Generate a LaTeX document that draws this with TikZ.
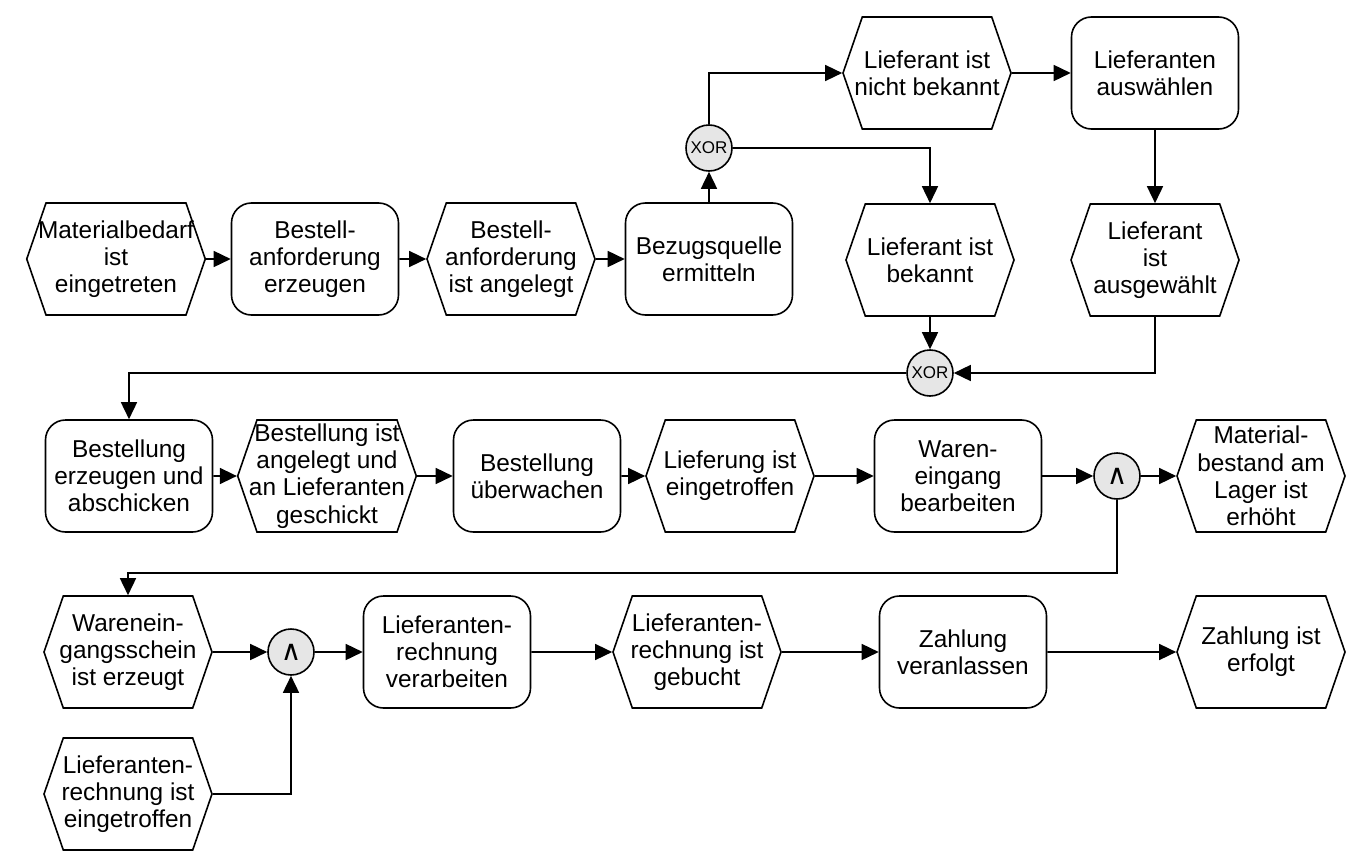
\documentclass[tikz,border=0pt]{standalone}
\usepackage{fontspec}
\setmainfont{Liberation Sans}
\newfontfamily\symbolfont{DejaVu Sans}
\usetikzlibrary{shapes.symbols, arrows.meta}
\definecolor{gategray}{RGB}{230, 230, 230}
\tikzstyle{eventbox} = [signal, signal to=west and east, signal pointer angle=142, minimum width=84pt, minimum height=56pt, inner xsep=-4pt, inner ysep=0pt, align=center, draw=black, line width=0.8pt, fill=white, font=\fontsize{12.2}{13.6}\selectfont]
\tikzstyle{funcbox} = [rectangle, rounded corners=10pt, minimum width=83.5pt, minimum height=56pt, align=center, draw=black, line width=0.8pt, fill=white, font=\fontsize{12.2}{13.6}\selectfont]
\tikzstyle{gate} = [circle, minimum size=23pt, inner sep=0pt, draw=black, line width=0.8pt, fill=gategray, font=\fontsize{8.5}{9}\selectfont]
\tikzstyle{andgate} = [gate, font=\symbolfont\fontsize{14}{14}\selectfont]
\tikzstyle{arrow} = [line width=0.8pt, -{Triangle[length=8.5pt, width=8pt]}]
\begin{document}
\begin{tikzpicture}[x=0.5pt, y=-0.5pt]
\useasboundingbox (0,0) rectangle (1366,867);

% Row 1: demand and source of supply
\node (bedarf) [eventbox] at (116,259) {Materialbedarf\\ist\\eingetreten};
\node (banfErz) [funcbox] at (315,259) {Bestell-\\anforderung\\erzeugen};
\node (banfAng) [eventbox] at (511,259) {Bestell-\\anforderung\\ist angelegt};
\node (quelle) [funcbox] at (709,259) {Bezugsquelle\\ermitteln};
\node (xorA) [gate] at (709,148) {XOR};
\node (unbek) [eventbox] at (927,73) {Lieferant ist\\nicht bekannt};
\node (auswahl) [funcbox] at (1155,73) {Lieferanten\\auswählen};
\node (bekannt) [eventbox] at (930,260) {Lieferant ist\\bekannt};
\node (gewaehlt) [eventbox] at (1155,260) {Lieferant\\ist\\ausgewählt};
\node (xorB) [gate] at (930,373) {XOR};

% Row 2: order and goods receipt
\node (bestErz) [funcbox] at (129,476) {Bestellung\\erzeugen und\\abschicken};
\node (bestAng) [eventbox] at (327,476) {Bestellung ist\\angelegt und\\an Lieferanten\\geschickt};
\node (bestUeb) [funcbox] at (537,476) {Bestellung\\überwachen};
\node (liefEin) [eventbox] at (730,476) {Lieferung ist\\eingetroffen};
\node (weBearb) [funcbox] at (958,476) {Waren-\\eingang\\bearbeiten};
\node (andA) [andgate] at (1117,476) {∧};
\node (bestand) [eventbox] at (1261,476) {Material-\\bestand am\\Lager ist\\erhöht};
\coordinate (turnA) at (1117,573);

% Row 3: invoice and payment
\node (weSchein) [eventbox] at (128,652) {Warenein-\\gangsschein\\ist erzeugt};
\node (andB) [andgate] at (291,652) {∧};
\node (reVerarb) [funcbox] at (447,652) {Lieferanten-\\rechnung\\verarbeiten};
\node (reGebucht) [eventbox] at (697,652) {Lieferanten-\\rechnung ist\\gebucht};
\node (zahlVer) [funcbox] at (963,652) {Zahlung\\veranlassen};
\node (zahlErf) [eventbox] at (1261,652) {Zahlung ist\\erfolgt};
\node (reEin) [eventbox] at (128,794) {Lieferanten-\\rechnung ist\\eingetroffen};

% Row 1 flow
\draw [arrow] (bedarf) -- (banfErz);
\draw [arrow] (banfErz) -- (banfAng);
\draw [arrow] (banfAng) -- (quelle);
\draw [arrow] (quelle) -- (xorA);
\draw [arrow] (xorA.north) |- (unbek.west);
\draw [arrow] (xorA.east) -| (bekannt.north);
\draw [arrow] (unbek) -- (auswahl);
\draw [arrow] (auswahl) -- (gewaehlt);
\draw [arrow] (bekannt) -- (xorB);
\draw [arrow] (gewaehlt.south) |- (xorB.east);
\draw [arrow] (xorB.west) -| (bestErz.north);

% Row 2 flow
\draw [arrow] (bestErz) -- (bestAng);
\draw [arrow] (bestAng) -- (bestUeb);
\draw [arrow] (bestUeb) -- (liefEin);
\draw [arrow] (liefEin) -- (weBearb);
\draw [arrow] (weBearb) -- (andA);
\draw [arrow] (andA) -- (bestand);
\draw [arrow] (andA.south) -- (turnA) -| (weSchein.north);

% Row 3 flow
\draw [arrow] (weSchein) -- (andB);
\draw [arrow] (reEin.east) -| (andB.south);
\draw [arrow] (andB) -- (reVerarb);
\draw [arrow] (reVerarb) -- (reGebucht);
\draw [arrow] (reGebucht) -- (zahlVer);
\draw [arrow] (zahlVer) -- (zahlErf);

\end{tikzpicture}
\end{document}
